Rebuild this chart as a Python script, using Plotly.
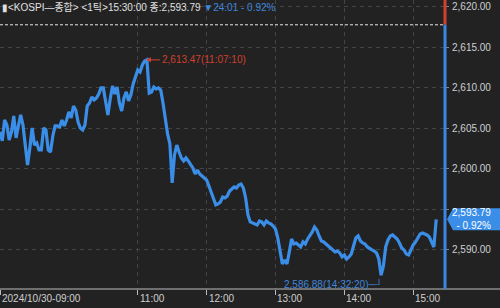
import pandas as pd
import plotly.graph_objects as go

# ---- data (KOSPI composite, 2024-10-30, sampled every 2 minutes from 09:00) ----
session_start = "2024-10-30 09:00"
sample_step = "2min"
kospi = [
    2604.57, 2603.46, 2606.05, 2605.43, 2603.58, 2604.57, 2606.54, 2603.83, 2605.31, 2606.67,
    2605.43, 2602.96, 2600.49, 2602.59, 2605.06, 2602.96, 2603.21, 2602.35, 2602.35, 2605.06,
    2604.82, 2602.35, 2602.10, 2604.07, 2605.31, 2605.31, 2605.19, 2606.05, 2605.31, 2606.05,
    2607.04, 2606.30, 2607.78, 2607.28, 2605.80, 2605.06, 2604.82, 2605.43, 2607.78, 2608.15,
    2608.89, 2608.52, 2608.77, 2609.26, 2610.00, 2610.00, 2608.15, 2606.67, 2608.64, 2610.25,
    2609.26, 2610.12, 2608.15, 2607.16, 2608.77, 2609.51, 2608.40, 2609.14, 2610.49, 2611.36,
    2612.22, 2611.98, 2612.84, 2613.33, 2613.47, 2609.38, 2609.51, 2610.12, 2609.88, 2610.00,
    2609.75, 2608.15, 2606.17, 2604.32, 2603.09, 2598.27, 2601.73, 2602.96, 2602.10, 2601.36,
    2600.99, 2601.36, 2600.99, 2600.62, 2600.12, 2599.38, 2599.88, 2599.38, 2599.14, 2598.89,
    2598.64, 2597.90, 2597.16, 2596.30, 2595.56, 2595.68, 2595.93, 2596.54, 2596.42, 2596.67,
    2597.28, 2597.53, 2597.78, 2597.65, 2598.02, 2598.15, 2597.65, 2596.42, 2594.32, 2593.46,
    2593.33, 2593.21, 2593.09, 2593.58, 2593.46, 2593.09, 2593.58, 2593.33, 2593.21, 2592.96,
    2592.59, 2591.48, 2589.63, 2588.27, 2588.77, 2588.27, 2589.75, 2591.36, 2590.74, 2590.86,
    2590.62, 2590.37, 2590.99, 2590.74, 2591.36, 2591.73, 2592.22, 2592.84, 2592.47, 2591.73,
    2591.11, 2590.99, 2590.74, 2590.49, 2590.12, 2590.00, 2589.75, 2589.87, 2589.63, 2589.14,
    2589.38, 2588.89, 2589.14, 2589.51, 2590.49, 2591.48, 2591.73, 2591.11, 2590.86, 2590.74,
    2590.37, 2590.12, 2590.00, 2589.87, 2589.63, 2588.89, 2586.88, 2588.02, 2590.37, 2591.23,
    2591.73, 2591.85, 2591.60, 2591.36, 2590.86, 2590.25, 2590.00, 2589.51, 2589.38, 2590.00,
    2590.62, 2590.99, 2591.60, 2591.98, 2592.10, 2591.98, 2591.85, 2591.60, 2590.86, 2590.37,
    2593.79,
]
prev_close = 2617.80
close_value = 2593.79
close_text = "2,593.79"
change_text = "▼24.01 - 0.92%"
pct_text = "- 0.92%"
high_value = 2613.47
high_time = "2024-10-30 11:07:10"
high_label = "2,613.47(11:07:10)"
low_value = 2586.88
low_time = "2024-10-30 14:32:20"
low_label = "2,586.88(14:32:20)─┘"
title_main = "▮<KOSPI—종합> <1틱>15:30:00 종:2,593.79 "

y_ticks = [2590, 2595, 2600, 2605, 2610, 2615, 2620]
# the 2,595.00 label is hidden under the current-price tag in the reference
y_tick_labels = ["2,590.00", "", "2,600.00", "2,605.00", "2,610.00", "2,615.00", "2,620.00"]
x_ticks = ["2024-10-30 09:00", "2024-10-30 11:00", "2024-10-30 12:00",
           "2024-10-30 13:00", "2024-10-30 14:00", "2024-10-30 15:00"]
x_tick_labels = ["2024/10/30-09:00", "11:00", "12:00", "13:00", "14:00", "15:00"]
x_range = ["2024-10-30 09:00:00", "2024-10-30 15:27:40"]
y_range = [2585.18, 2620.86]

# ---- styles ----
BG = "#222222"
LINE = "#3a8ee8"
RED = "#d0402e"
BLUE_TXT = "#3f86dc"
TXT = "#cfcfcf"
GRID = "#444444"
FONT = "Liberation Sans, Arial, Noto Sans CJK KR"

times = pd.date_range(session_start, periods=len(kospi), freq=sample_step)

fig = go.Figure()
fig.add_trace(go.Scatter(x=times, y=kospi, mode="lines",
                         line=dict(color=LINE, width=3.2), hoverinfo="skip"))

fig.update_layout(
    width=500, height=308,
    margin=dict(l=0, r=55, t=0, b=19),
    paper_bgcolor=BG, plot_bgcolor=BG,
    showlegend=False,
    font=dict(family=FONT, size=10, color=TXT),
    xaxis=dict(type="date", range=x_range, tickvals=x_ticks, showticklabels=False,
               ticks="outside", ticklen=5, tickcolor="#bbbbbb", tickwidth=1,
               showgrid=True, gridcolor=GRID, griddash="4px,4px", gridwidth=1,
               showline=False, zeroline=False, fixedrange=True),
    yaxis=dict(range=y_range, side="right", tickvals=y_ticks, ticktext=y_tick_labels,
               ticks="outside", ticklen=3, tickcolor="#888888",
               showgrid=True, gridcolor=GRID, griddash="4px,4px", gridwidth=1,
               showline=False, zeroline=False, ticklabelstandoff=1,
               tickfont=dict(size=10, color=TXT)),
)

shapes = []
# bottom axis line across the full width
shapes.append(dict(type="line", xref="paper", yref="paper", x0=0, x1=1.13, y0=0, y1=0,
                   line=dict(color="#bdbdbd", width=1), layer="above"))
# previous close dashed line
shapes.append(dict(type="line", xref="paper", yref="y", x0=0, x1=1, y0=prev_close, y1=prev_close,
                   line=dict(color="#e6e6e6", width=1, dash="3px,2px"), layer="above"))
# right edge bar: red above previous close, blue below
shapes.append(dict(type="line", xref="paper", yref="y", x0=1, x1=1, y0=prev_close, y1=y_range[1],
                   line=dict(color=RED, width=3), layer="above"))
shapes.append(dict(type="line", xref="paper", yref="y", x0=1, x1=1, y0=y_range[0], y1=prev_close,
                   line=dict(color="#3a86e6", width=3), layer="above"))
# current price tag
shapes.append(dict(type="path", xref="paper", yref="y", xsizemode="pixel", ysizemode="pixel",
                   xanchor=1, yanchor=close_value,
                   path="M 2,0 L 8,11 L 55,11 L 55,-11 L 8,-11 Z",
                   fillcolor="#3a8ee8", line=dict(width=0), layer="above"))
fig.update_layout(shapes=shapes)

ann = []
ann.append(dict(xref="paper", yref="paper", x=0, y=1, xanchor="left", yanchor="top",
                xshift=0, yshift=0, showarrow=False,
                text=title_main + f"<span style='color:{BLUE_TXT}'>{change_text}</span>",
                font=dict(size=10, color="#e0e0e0", family=FONT)))
ann.append(dict(x=high_time, y=high_value, xref="x", yref="y", text=high_label,
                showarrow=True, arrowhead=2, arrowsize=1, arrowwidth=1, arrowcolor=RED,
                ax=14, ay=0, xanchor="left", yanchor="middle",
                font=dict(size=10, color=RED)))
ann.append(dict(x=low_time, y=low_value, xref="x", yref="y", text=low_label,
                showarrow=False, xanchor="right", yanchor="top", xshift=4, yshift=-1,
                font=dict(size=10, color=BLUE_TXT)))
ann.append(dict(xref="paper", yref="y", x=1, y=close_value, xanchor="right", yanchor="middle",
                xshift=48, showarrow=False, align="right",
                text=close_text + "<br>" + pct_text,
                font=dict(size=10, color="#ffffff")))
for tv, tl in zip(x_ticks, x_tick_labels):
    ann.append(dict(x=tv, xref="x", y=0, yref="paper", yanchor="top", xanchor="left",
                    yshift=-2, xshift=0, showarrow=False, text=tl,
                    font=dict(size=10, color=TXT)))
fig.update_layout(annotations=ann)

fig.write_html("out.html", config={"displayModeBar": False})
